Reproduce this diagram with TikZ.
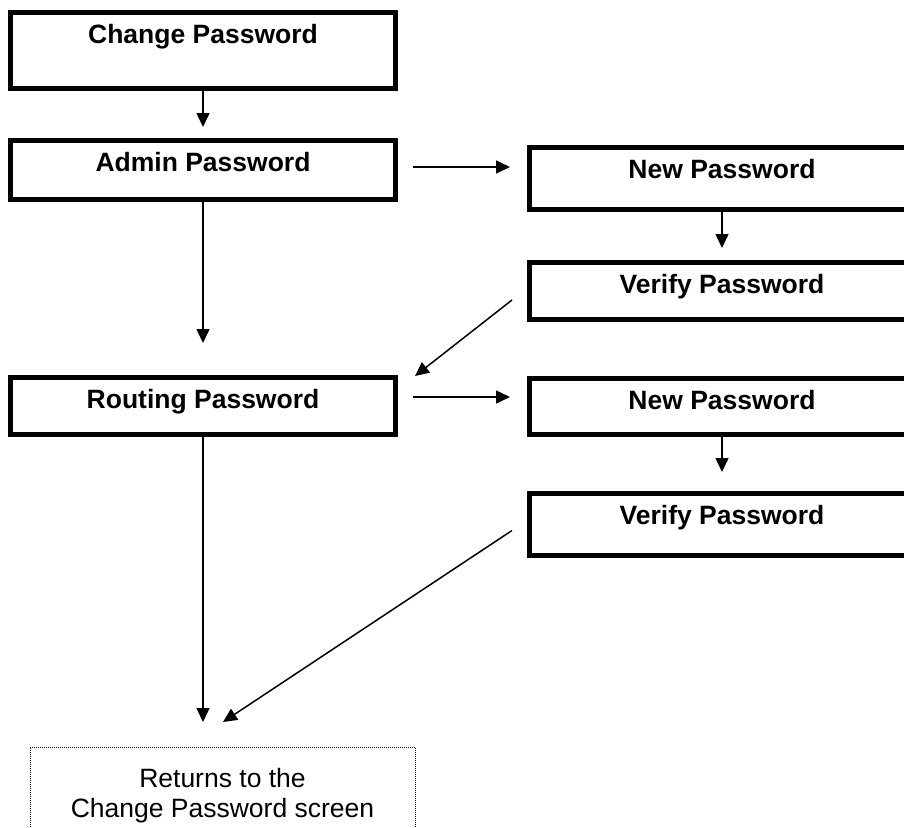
\documentclass[tikz,border=0pt]{standalone}
\usepackage{fontspec}
\setmainfont{Liberation Sans}
\usetikzlibrary{arrows.meta,positioning}

\begin{document}
\begin{tikzpicture}[x=1pt, y=-1pt,
      pwbox/.style={draw, line width=5pt, inner sep=0pt, outer sep=0pt,
                  minimum width=385pt, text height=31pt, text depth=#1,
                  font=\bfseries\fontsize{26.5}{30}\selectfont},
      retbox/.style={draw, dash pattern=on 1pt off 1pt, line width=0.8pt,
                  inner xsep=0pt, inner ysep=21pt, outer sep=0pt, align=center,
                  minimum width=385pt, font=\fontsize{26.5}{30}\selectfont},
      arr/.style={-{Triangle[length=14pt, width=13pt]}, line width=1.5pt}]
    \useasboundingbox (0,0) rectangle (904,827);
    \node[pwbox=45pt] (chg) at (203,50.5) {Change Password};
    \node[pwbox=28pt, below=52pt of chg] (admin) {Admin Password};
    \node[pwbox=26pt, below=178pt of admin] (routing) {Routing Password};
    \node[pwbox=31pt, below right=7pt and 134pt of admin.north east] (newa) {New Password};
    \node[pwbox=26pt, below=53pt of newa] (verifya) {Verify Password};
    \node[pwbox=25pt, right=134pt of routing] (newb) {New Password};
    \node[pwbox=31pt, below=59pt of newb] (verifyb) {Verify Password};
    \node[retbox, below=312.5pt of routing, xshift=19.5pt] (back) {Returns to the\\Change Password screen};
    \draw[arr, shorten >=13.5pt] (chg) -- (admin);
    \draw[arr, shorten >=34.5pt] (admin) -- (routing);
    \draw[arr, shorten <=17.5pt, shorten >=19.5pt] ([yshift=3pt]admin.east) -- ([yshift=3pt]admin.east -| newa.west);
    \draw[arr, shorten >=14.5pt] (newa) -- (verifya);
    \draw[arr] ([shift={(-17.5,9)}]verifya.west) -- ([shift={(19.5,-1.5)}]routing.north east);
    \draw[arr, shorten <=17.5pt, shorten >=19.5pt] ([yshift=9pt]routing.east) -- ([yshift=9pt]routing.east -| newb.west);
    \draw[arr, shorten >=21pt] (newb) -- (verifyb);
    \draw[arr, shorten >=25pt] (routing) -- (routing |- back.north);
    \draw[arr] ([shift={(-17.5,6.5)}]verifyb.west) -- ([shift={(0.5,-25)}]back.north);
  \end{tikzpicture}
\end{document}
